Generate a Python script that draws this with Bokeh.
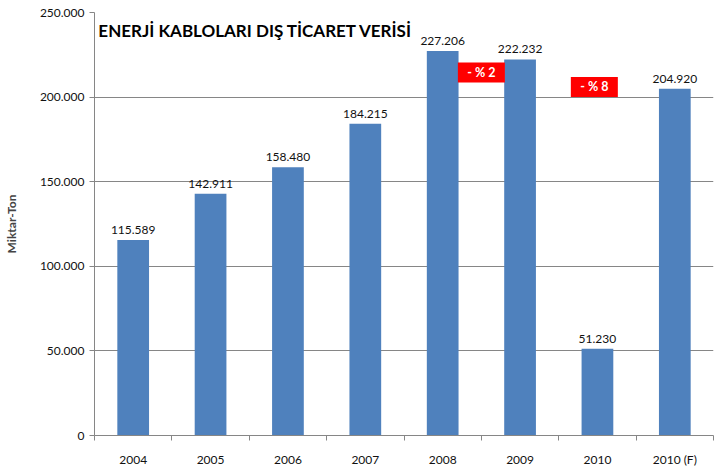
from bokeh.plotting import figure
from bokeh.models import ColumnDataSource, FixedTicker, CustomJSTickFormatter, Range1d, Label
from bokeh.core.properties import value
from bokeh.embed import file_html
from bokeh.resources import INLINE

categories = ["2004", "2005", "2006", "2007", "2008", "2009", "2010", "2010 (F)"]
amounts = [115589, 142911, 158480, 184215, 227206, 222232, 51230, 204920]
amount_labels = ["115.589", "142.911", "158.480", "184.215", "227.206", "222.232", "51.230", "204.920"]
y_ticks = [0, 50000, 100000, 150000, 200000, 250000]
change_texts = ["- % 2", "- % 8"]
change_x = [5.0, 6.46]
change_y = [214500, 206000]

FONT = "Lato"
xs = [i + 0.5 for i in range(len(categories))]
src = ColumnDataSource(dict(x=xs, top=amounts, lab=amount_labels))

p = figure(width=720, height=473, output_backend="svg", toolbar_location=None,
           x_range=Range1d(0, len(categories)), y_range=Range1d(0, 250000),
           min_border_left=89, min_border_right=7, min_border_top=12, min_border_bottom=38)
p.outline_line_color = None
p.background_fill_color = "white"
p.border_fill_color = "white"

p.vbar(x="x", top="top", width=0.41, source=src, fill_color="#4F81BD", line_color=None)
p.text(x="x", y="top", text="lab", source=src, text_align="center", text_baseline="bottom",
       y_offset=-6, text_font=value(FONT), text_font_size="12px", text_color="#111111")

# change annotations
csrc = ColumnDataSource(dict(x=change_x, y=change_y, t=change_texts))
p.rect(x="x", y="y", width=47, height=20, width_units="screen", height_units="screen",
       source=csrc, fill_color="#FF0000", line_color=None)
p.text(x="x", y="y", text="t", source=csrc, text_align="center", text_baseline="middle",
       text_font=value(FONT), text_font_style="bold", text_font_size="12.5px", text_color="white")

# title
p.add_layout(Label(x=0.05, y=245500, text="ENERJİ KABLOLARI  DIŞ TİCARET VERİSİ",
                   text_font=FONT, text_font_style="bold", text_font_size="17px",
                   text_baseline="top", text_color="black"))

# y axis
p.yaxis.ticker = FixedTicker(ticks=y_ticks)
p.yaxis.formatter = CustomJSTickFormatter(code="""
return Math.round(tick).toString().replace(/\\B(?=(\\d{3})+(?!\\d))/g, ".");
""")
p.yaxis.axis_label = "Miktar-Ton"
p.yaxis.axis_label_text_font = FONT
p.yaxis.axis_label_text_font_style = "bold"
p.yaxis.axis_label_text_font_size = "12px"
p.yaxis.axis_label_standoff = 18
p.yaxis.major_label_text_font = FONT
p.yaxis.major_label_text_font_size = "12px"
p.yaxis.major_label_text_color = "#111111"
p.yaxis.major_tick_out = 5
p.yaxis.major_tick_in = 0
p.yaxis.minor_tick_out = 0
p.yaxis.minor_tick_in = 0
p.yaxis.axis_line_color = "#868686"
p.yaxis.major_tick_line_color = "#868686"
p.yaxis.major_label_standoff = 5

# x axis
p.xaxis.ticker = FixedTicker(ticks=xs, minor_ticks=list(range(len(categories) + 1)))
p.xaxis.formatter = CustomJSTickFormatter(args=dict(labels=categories),
                                          code="return labels[Math.floor(tick)];")
p.xaxis.major_label_text_font = FONT
p.xaxis.major_label_text_font_size = "12px"
p.xaxis.major_label_text_color = "#111111"
p.xaxis.major_tick_out = 0
p.xaxis.major_tick_in = 0
p.xaxis.minor_tick_out = 5
p.xaxis.minor_tick_in = 0
p.xaxis.minor_tick_line_color = "#868686"
p.xaxis.axis_line_color = "#868686"
p.xaxis.major_label_standoff = 11

p.xgrid.grid_line_color = None
p.ygrid.ticker = FixedTicker(ticks=y_ticks)
p.ygrid.grid_line_color = "#868686"
p.ygrid.grid_line_width = 1

open("out.html", "w").write(file_html(p, INLINE))
